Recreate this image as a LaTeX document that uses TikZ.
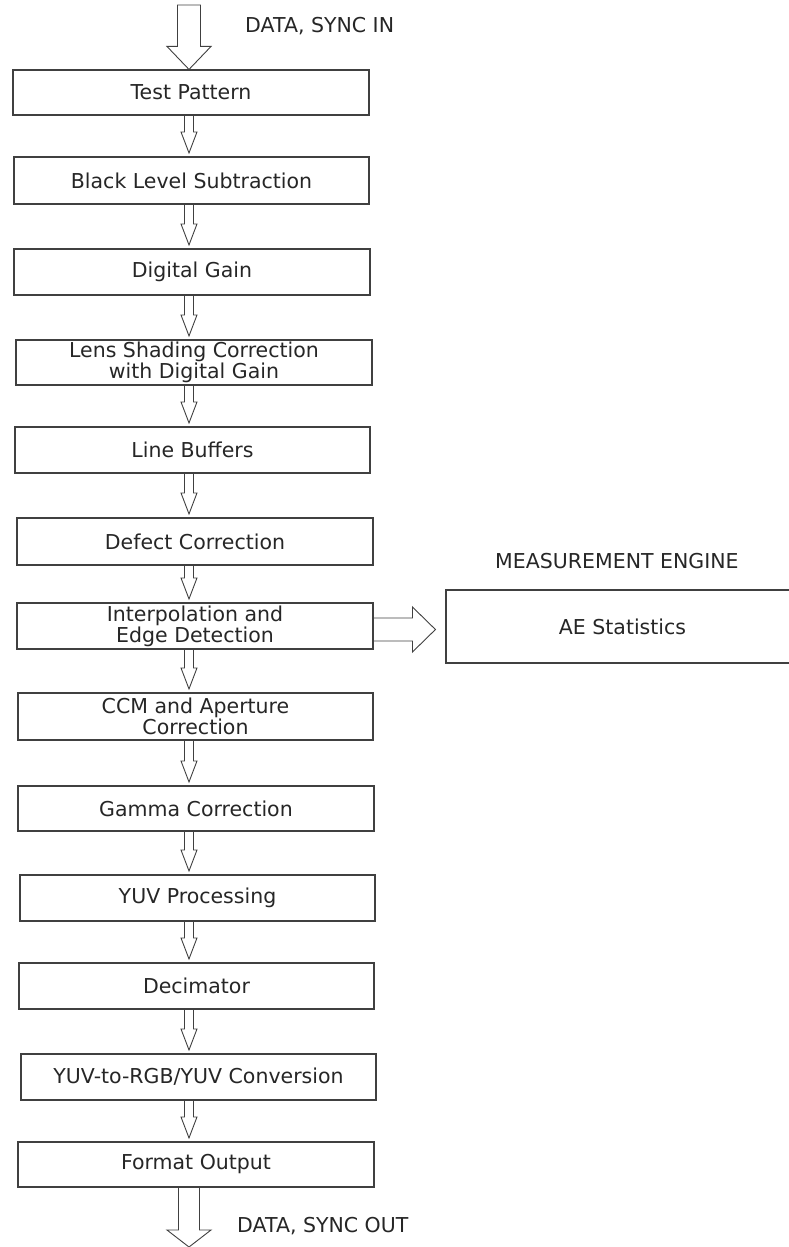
\documentclass[tikz,border=0pt]{standalone}
\usepackage{fontspec}
\setmainfont{DejaVu Sans}
\usetikzlibrary{calc}
\newcommand\hollowarr[2]{%
  \draw[harr] let \p1=(#1.south), \p2=(#2.north), \p3=(axis) in
   (\x3-4.5pt,\y1) -- (\x3-4.5pt,\y2+24.5pt) -- (\x3-8pt,\y2+24.5pt) --
   (\x3,\y2+3.5pt) -- (\x3+8pt,\y2+24.5pt) -- (\x3+4.5pt,\y2+24.5pt) -- (\x3+4.5pt,\y1);}
\begin{document}
\begin{tikzpicture}[x=1pt,y=-1pt,
  txt/.style={text=black!85,font=\fontsize{20.5}{21}\selectfont},
  blk/.style={txt,draw=black!75,line width=1.1pt,rectangle,inner sep=0pt,align=center},
  harr/.style={draw=black!75,line width=0.9pt,line join=miter},
  lbl/.style={txt,inner sep=0pt,anchor=base west}]
\useasboundingbox (0,0) rectangle (789,1247);
\clip (0,0) rectangle (789,1247);
\coordinate (axis) at (189,0);
\coordinate (inA) at (189,5);
\coordinate (outA) at (189,1247);

\node[blk,minimum width=356pt,minimum height=45pt] (tp) at (191,92.5) {Test Pattern};
\node[blk,minimum width=355pt,minimum height=47pt] (bl) at (191.5,180.5) {Black Level Subtraction};
\node[blk,minimum width=356pt,minimum height=46pt] (dg) at (192,272) {Digital Gain};
\node[blk,minimum width=356pt,minimum height=45pt] (ls) at (194,362.5) {Lens Shading Correction\\with Digital Gain};
\node[blk,minimum width=355pt,minimum height=46pt] (lb) at (192.5,450) {Line Buffers};
\node[blk,minimum width=356pt,minimum height=47pt] (dc) at (195,541.5) {Defect Correction};
\node[blk,minimum width=356pt,minimum height=46pt] (ie) at (195,626) {Interpolation and\\Edge Detection};
\node[blk,minimum width=355pt,minimum height=47pt] (ccm) at (195.5,716.5) {CCM and Aperture\\Correction};
\node[blk,minimum width=356pt,minimum height=45pt] (gc) at (196,808.5) {Gamma Correction};
\node[blk,minimum width=355pt,minimum height=46pt] (yuv) at (197.5,898) {YUV Processing};
\node[blk,minimum width=355pt,minimum height=46pt] (dec) at (196.5,986) {Decimator};
\node[blk,minimum width=355pt,minimum height=46pt] (y2r) at (198.5,1077) {YUV-to-RGB/YUV Conversion};
\node[blk,minimum width=356pt,minimum height=45pt] (fo) at (196,1164.5) {Format Output};
\node[blk,minimum width=353pt,minimum height=73pt] (ae) at (622.5,626.5) {AE Statistics};

\node[lbl] (lin) at (245,33) {DATA, SYNC IN};
\node[lbl] (lme) at (495,568) {MEASUREMENT ENGINE};
\node[lbl] (lout) at (237,1232) {DATA, SYNC OUT};

% input arrow
\draw[harr] let \p1=(inA), \p2=(tp.north) in
  (\x1-11.5pt,\y1) -- (\x1-11.5pt,\y2+23pt) -- (\x1-22pt,\y2+23pt) -- (\x1,\y2) --
  (\x1+22pt,\y2+23pt) -- (\x1+11.5pt,\y2+23pt) -- (\x1+11.5pt,\y1) -- cycle;

\hollowarr{tp}{bl}
\hollowarr{bl}{dg}
\hollowarr{dg}{ls}
\hollowarr{ls}{lb}
\hollowarr{lb}{dc}
\hollowarr{dc}{ie}
\hollowarr{ie}{ccm}
\hollowarr{ccm}{gc}
\hollowarr{gc}{yuv}
\hollowarr{yuv}{dec}
\hollowarr{dec}{y2r}
\hollowarr{y2r}{fo}

% output arrow
\draw[harr] let \p1=(fo.south), \p2=(outA) in
  (\x2-10.5pt,\y1) -- (\x2-10.5pt,\y2+17pt) -- (\x2-22pt,\y2+17pt) -- (\x2,\y2) --
  (\x2+22pt,\y2+17pt) -- (\x2+10.5pt,\y2+17pt) -- (\x2+10.5pt,\y1);

% side arrow to measurement engine
\draw[harr] let \p1=(ie.east), \p2=(ae.west) in
  (\x1,\y1+8pt) -- (\x2-33pt,\y1+8pt) -- (\x2-33pt,\y1+19pt) -- (\x2-10pt,\y1-3.5pt) --
  (\x2-33pt,\y1-26pt) -- (\x2-33pt,\y1-15pt) -- (\x1,\y1-15pt);
\end{tikzpicture}
\end{document}
